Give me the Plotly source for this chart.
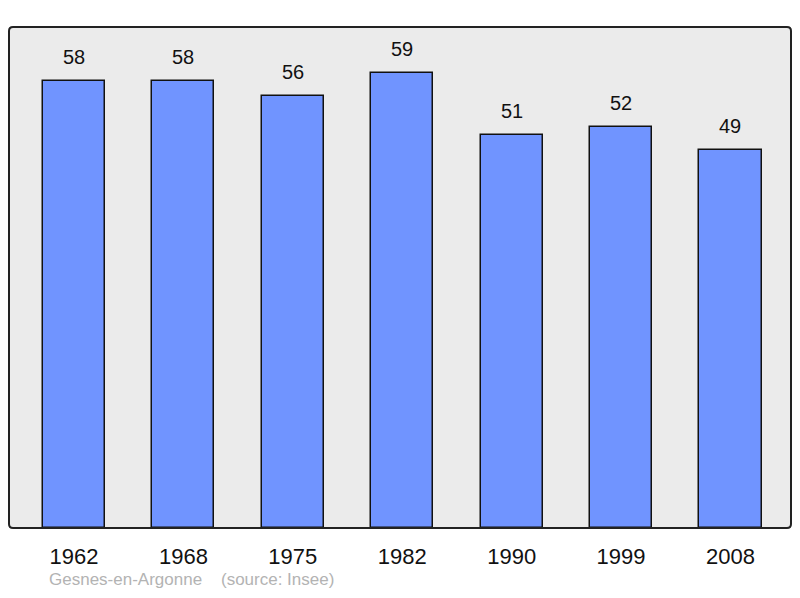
import plotly.graph_objects as go

years = ["1962", "1968", "1975", "1982", "1990", "1999", "2008"]
population = [58, 58, 56, 59, 51, 52, 49]
footer_text = "Gesnes-en-Argonne&nbsp;&nbsp;&nbsp;&nbsp;(source: Insee)"

xs = list(range(len(years)))

W, H = 784, 582
ML, MR, MT, MB = 1, 1, 19, 62
PW, PH = W - ML - MR, H - MT - MB

fig = go.Figure()
fig.add_trace(go.Bar(
    x=xs, y=population, width=0.567,
    marker=dict(color="#7094ff", line=dict(color="#111111", width=1.5)),
    hoverinfo="skip",
))

for x, v in zip(xs, population):
    fig.add_annotation(x=x, y=v, text=str(v), showarrow=False,
                       yanchor="bottom", yshift=11,
                       font=dict(family="Liberation Sans, Arial", size=20, color="#111111"))

fig.add_annotation(xref="paper", yref="paper", x=39 / PW, y=-51 / PH, xanchor="left",
                   yanchor="middle", text=footer_text, showarrow=False, borderpad=0,
                   font=dict(family="Liberation Sans, Arial", size=17, color="#b3b3b3"))

rx, ry = 4 / PW, 4 / PH
path = (f"M {rx},0 L {1-rx},0 Q 1,0 1,{ry} L 1,{1-ry} Q 1,1 {1-rx},1 "
        f"L {rx},1 Q 0,1 0,{1-ry} L 0,{ry} Q 0,0 {rx},0 Z")
fig.add_shape(type="path", xref="paper", yref="paper", path=path,
              line=dict(color="#222222", width=2), layer="above")

fig.update_layout(
    width=W, height=H,
    margin=dict(l=ML, r=MR, t=MT, b=MB, pad=0),
    paper_bgcolor="white", plot_bgcolor="#ebebeb",
    showlegend=False, bargap=0,
    xaxis=dict(range=[-0.594, 6.553], tickmode="array", tickvals=xs, ticktext=years,
               showgrid=False, zeroline=False, showline=False,
               ticks="outside", ticklen=9, tickcolor="rgba(0,0,0,0)",
               tickfont=dict(family="Liberation Sans, Arial", size=22, color="#111111"),
               fixedrange=True),
    yaxis=dict(range=[0, 65], showgrid=False, zeroline=False, showticklabels=False,
               showline=False, fixedrange=True),
)

fig.write_html("out.html")
